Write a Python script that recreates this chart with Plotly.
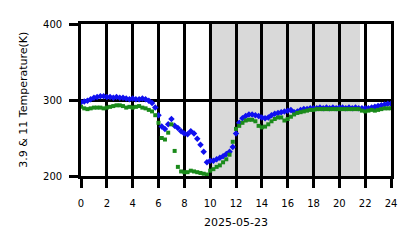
import plotly.graph_objects as go

hours = [i * 0.25 for i in range(97)]

blue_vals = [
    297, 298, 299, 301, 303, 304, 305, 305, 304, 304, 303, 304, 303, 303, 302, 301,
    302, 301, 301, 302, 301, 299, 296, 290, 280, 265, 262, 268, 275, 266, 263, 259,
    256, 255, 259, 256, 249, 241, 232, 218, 220, 220, 222, 224, 226, 229, 232, 238,
    256, 270, 276, 279, 281, 281, 280, 279, 277, 276, 277, 280, 282, 283, 284, 285,
    286, 287, 284, 285, 287, 288, 288, 289, 289, 289, 290, 289, 290, 289, 290, 289,
    290, 290, 289, 290, 289, 290, 289, 289, 289, 289, 290, 291, 292, 293, 294, 295,
    295,
]

green_vals = [
    291, 289, 288, 289, 290, 290, 290, 289, 290, 291, 292, 293, 293, 292, 290, 291,
    290, 291, 292, 290, 289, 287, 285, 280, 270, 250, 248, 257, 268, 233, 212, 206,
    205, 205, 207, 206, 205, 204, 203, 202, 207, 209, 212, 214, 218, 222, 228, 245,
    262, 266, 270, 273, 274, 274, 272, 266, 264, 265, 268, 272, 275, 277, 277, 273,
    275, 278, 281, 283, 284, 285, 286, 287, 287, 288, 288, 288, 288, 288, 288, 288,
    288, 288, 288, 288, 288, 288, 288, 286, 285, 286, 287, 286, 287, 288, 289, 289,
    289,
]

shade_start, shade_end = 9.9, 21.6
x_ticks = list(range(0, 25, 2))
y_ticks = [200, 300, 400]
x_title = "2025-05-23"
y_title = "3.9 & 11 Temperature(K)"

fig = go.Figure()
fig.add_trace(go.Scatter(x=hours, y=blue_vals, mode="markers",
                         marker=dict(color="#1010f0", size=5, symbol="diamond", line=dict(width=0)),
                         showlegend=False))
fig.add_trace(go.Scatter(x=hours, y=green_vals, mode="markers",
                         marker=dict(color="#1a8a1a", size=4, symbol="square", line=dict(width=0)),
                         showlegend=False))

fig.add_shape(type="rect", xref="x", yref="y", x0=shade_start, x1=shade_end, y0=200, y1=400,
              fillcolor="#d9d9d9", line=dict(width=0), layer="below")

fig.add_annotation(text=x_title, xref="paper", yref="paper", x=0.5, y=-0.309,
                   xanchor="center", yanchor="middle", showarrow=False,
                   font=dict(size=11, color="black"))
fig.add_annotation(text=y_title, xref="paper", yref="paper", x=-0.188, y=0.5,
                   xanchor="center", yanchor="middle", showarrow=False, textangle=-90,
                   font=dict(size=11, color="black"))

font = "DejaVu Sans"
fig.update_layout(
    width=418, height=248,
    margin=dict(l=81, r=27, t=24, b=72),
    plot_bgcolor="white", paper_bgcolor="white",
    font=dict(family=font, size=10, color="black"),
    xaxis=dict(range=[0, 24], tickvals=x_ticks, ticktext=[str(v) for v in x_ticks],
               showgrid=True, gridcolor="black", gridwidth=2.7, zeroline=False,
               showline=True, linecolor="black", linewidth=2.7, mirror=True,
               ticks="outside", ticklen=9, tickwidth=2.5, tickcolor="black",
               ticklabelstandoff=7),
    yaxis=dict(range=[200, 400], tickvals=y_ticks,
               showgrid=True, gridcolor="black", gridwidth=2.7, zeroline=False,
               showline=True, linecolor="black", linewidth=2.7, mirror=True,
               ticks="outside", ticklen=9, tickwidth=2.5, tickcolor="black",
               ticklabelstandoff=5),
)

fig.write_html("out.html")
